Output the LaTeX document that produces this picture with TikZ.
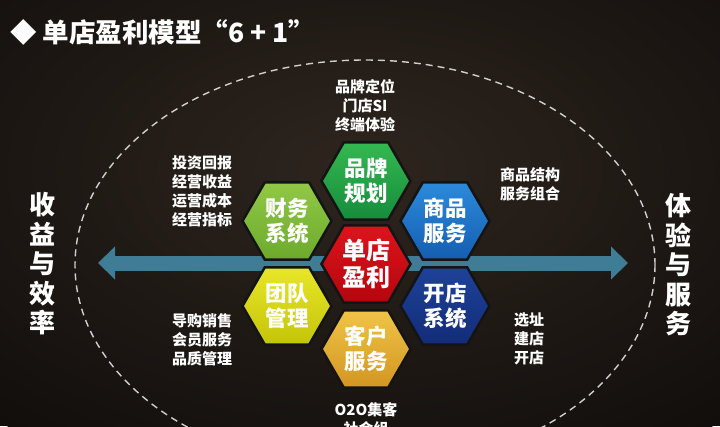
\documentclass[tikz,border=0pt]{standalone}
\usepackage{fontspec}
\setmainfont{Noto Sans CJK SC}
\usetikzlibrary{shapes.geometric,arrows.meta}
\definecolor{bg}{HTML}{110E0C}
\definecolor{bglight}{HTML}{2E251E}
\definecolor{arrowc}{HTML}{3F7D96}
\definecolor{ringc}{HTML}{D0D0D0}
\begin{document}
\begin{tikzpicture}[x=1pt,y=-1pt,
  hexa/.style={regular polygon, regular polygon sides=6, minimum size=89pt,
    inner sep=0pt, draw=black!92, line width=2.5pt, text=white, align=center,
    font=\bfseries\fontsize{21.5}{25}\selectfont},
  lbl/.style={text=white, align=center, inner sep=0pt,
    font=\bfseries\fontsize{15}{19}\selectfont},
  big/.style={text=white, align=center, inner sep=0pt,
    font=\bfseries\fontsize{26}{29.5}\selectfont},
  ring/.style={draw=ringc, line width=1.4pt, dash pattern=on 7pt off 5pt}]
\useasboundingbox (0,0) rectangle (720,426);
\clip (0,0) rectangle (720,426);
% background
\fill[bg] (0,0) rectangle (720,426);
\shade[inner color=bglight, outer color=bg] (360,170) ellipse [x radius=560, y radius=330];
% dashed ring
\draw[ring] (365,265) ellipse [x radius=290, y radius=205];
% double arrow
\coordinate (aL) at (98,263);
\coordinate (aR) at (628,263);
\draw[arrowc, line width=15pt,
  {Triangle[width=32pt,length=17pt]}-{Triangle[width=32pt,length=17pt]}] (aL) -- (aR);
% title
\node[anchor=west, text=white, inner sep=0pt,
  font=\bfseries\fontsize{26.5}{30}\selectfont] (title) at (10,32) {◆ 单店盈利模型“6 + 1”};
% hexagons
\node[hexa, top color={rgb,255:red,52;green,184;blue,80}, bottom color={rgb,255:red,22;green,140;blue,60}]
  (brand) at (366,181) {品牌\\规划};
\node[hexa, top color={rgb,255:red,146;green,200;blue,70}, bottom color={rgb,255:red,108;green,170;blue,44}]
  (fin) at (287,221) {财务\\系统};
\node[hexa, top color={rgb,255:red,44;green,138;blue,218}, bottom color={rgb,255:red,20;green,94;blue,178}]
  (prod) at (445,221) {商品\\服务};
\node[hexa, top color={rgb,255:red,220;green,20;blue,28}, bottom color={rgb,255:red,180;green,6;blue,14},
  font=\bfseries\fontsize{24}{27}\selectfont]
  (core) at (366,264) {单店\\盈利};
\node[hexa, top color={rgb,255:red,232;green,230;blue,40}, bottom color={rgb,255:red,196;green,196;blue,10}]
  (team) at (287,306) {团队\\管理};
\node[hexa, top color={rgb,255:red,30;green,66;blue,152}, bottom color={rgb,255:red,18;green,44;blue,120}]
  (store) at (445,306) {开店\\系统};
\node[hexa, top color={rgb,255:red,240;green,196;blue,70}, bottom color={rgb,255:red,210;green,150;blue,34}]
  (cust) at (366,349) {客户\\服务};
% labels
\node[lbl] (tBrand) at (365,106) {品牌定位\\门店SI\\终端体验};
\node[lbl] (tFin) at (202,191.5) {投资回报\\经营收益\\运营成本\\经营指标};
\node[lbl] (tTeam) at (202,340) {导购销售\\会员服务\\品质管理};
\node[lbl] (tProd) at (530,184) {商品结构\\服务组合};
\node[lbl] (tStore) at (529,339) {选址\\建店\\开店};
\node[lbl, anchor=north] (tCust) at (366,402) {O2O集客\\社会组};
% side labels
\node[big] (lside) at (42,264) {收\\益\\与\\效\\率};
\node[big] (rside) at (678,265) {体\\验\\与\\服\\务};
\end{tikzpicture}
\end{document}
